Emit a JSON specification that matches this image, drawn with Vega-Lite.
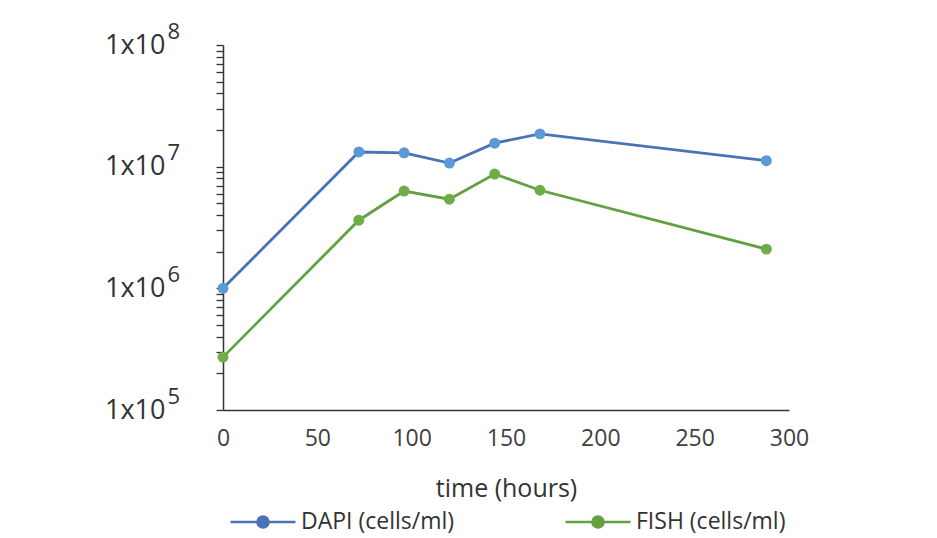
{
  "$schema": "https://vega.github.io/schema/vega-lite/v6.json",
  "width": 566,
  "height": 365,
  "autosize": {"type": "none"},
  "padding": {"left": 223, "top": 45, "right": 148, "bottom": 128},
  "background": "white",
  "config": {
    "view": {"stroke": null},
    "font": "Open Sans",
    "axis": {"grid": false, "domainColor": "#333333", "tickColor": "#333333", "labelColor": "#404040", "titleColor": "#333333", "labelFont": "Open Sans", "titleFont": "Open Sans"}
  },
  "data": {
    "values": [
      {"t": 0, "v": 1000000, "s": "DAPI (cells/ml)"},
      {"t": 72, "v": 13200000, "s": "DAPI (cells/ml)"},
      {"t": 96, "v": 13000000, "s": "DAPI (cells/ml)"},
      {"t": 120, "v": 10700000, "s": "DAPI (cells/ml)"},
      {"t": 144, "v": 15600000, "s": "DAPI (cells/ml)"},
      {"t": 168, "v": 18600000, "s": "DAPI (cells/ml)"},
      {"t": 288, "v": 11200000, "s": "DAPI (cells/ml)"},
      {"t": 0, "v": 272000, "s": "FISH (cells/ml)"},
      {"t": 72, "v": 3630000, "s": "FISH (cells/ml)"},
      {"t": 96, "v": 6300000, "s": "FISH (cells/ml)"},
      {"t": 120, "v": 5400000, "s": "FISH (cells/ml)"},
      {"t": 144, "v": 8700000, "s": "FISH (cells/ml)"},
      {"t": 168, "v": 6400000, "s": "FISH (cells/ml)"},
      {"t": 288, "v": 2100000, "s": "FISH (cells/ml)"}
    ]
  },
  "encoding": {
    "x": {
      "field": "t", "type": "quantitative",
      "scale": {"domain": [0, 300], "nice": false, "zero": false},
      "axis": {"values": [0, 50, 100, 150, 200, 250, 300], "ticks": false, "labelFontSize": 23, "labelPadding": 17, "domainWidth": 1.5, "title": "time (hours)", "titleFontSize": 25, "titleFontWeight": "normal", "titlePadding": 26, "labelFlush": false}
    }
  },
  "resolve": {"axis": {"y": "independent"}},
  "layer": [
    {
      "mark": {"type": "line", "strokeWidth": 2.8},
      "encoding": {
        "y": {
          "field": "v", "type": "quantitative",
          "scale": {"type": "log", "domain": [100000, 100000000], "nice": false},
          "axis": {
            "title": null, "orient": "left",
            "values": [100000, 200000, 300000, 400000, 500000, 600000, 700000, 800000, 900000, 1000000, 2000000, 3000000, 4000000, 5000000, 6000000, 7000000, 8000000, 9000000, 10000000, 20000000, 30000000, 40000000, 50000000, 60000000, 70000000, 80000000, 90000000, 100000000],
            "labelExpr": "datum.value == 100000 || datum.value == 1000000 || datum.value == 10000000 || datum.value == 100000000 ? '1x10' : ''",
            "labelFontSize": 27, "labelPadding": 51, "tickSize": 7, "tickWidth": 1.3, "domainWidth": 1.5, "labelFlush": false, "labelOverlap": false, "labelColor": "#333333"
          }
        },
        "stroke": {
          "field": "s", "type": "nominal",
          "scale": {"range": ["#4a72b8", "#65a040"]},
          "legend": {
            "title": null, "orient": "none", "legendX": 6, "legendY": 443, "direction": "horizontal",
            "symbolType": "M-1,0L1,0M-0.17,0A0.17,0.17,0,1,1,0.17,0A0.17,0.17,0,1,1,-0.17,0ZM-0.11,0A0.11,0.11,0,1,1,0.11,0A0.11,0.11,0,1,1,-0.11,0ZM-0.05,0A0.05,0.05,0,1,1,0.05,0A0.05,0.05,0,1,1,-0.05,0Z",
            "symbolSize": 4225, "symbolStrokeWidth": 2.6, "labelFontSize": 23, "labelColor": "#333333", "labelOffset": 4, "columnPadding": 105, "symbolOpacity": 1
          }
        }
      }
    },
    {
      "mark": {"type": "point", "filled": true, "size": 120, "opacity": 1},
      "encoding": {
        "y": {
          "field": "v", "type": "quantitative",
          "axis": {
            "title": null, "orient": "left", "domain": false, "ticks": false,
            "values": [100000, 1000000, 10000000, 100000000],
            "labelExpr": "datum.value == 100000 ? '5' : datum.value == 1000000 ? '6' : datum.value == 10000000 ? '7' : '8'",
            "labelFontSize": 22, "labelAlign": "left", "labelPadding": 56, "labelOffset": -14, "labelFlush": false, "labelOverlap": false, "labelColor": "#333333"
          }
        },
        "fill": {
          "field": "s", "type": "nominal",
          "scale": {"domain": ["DAPI (cells/ml)", "FISH (cells/ml)"], "range": ["#5b9bd5", "#70ad47"]},
          "legend": null
        }
      }
    }
  ]
}
